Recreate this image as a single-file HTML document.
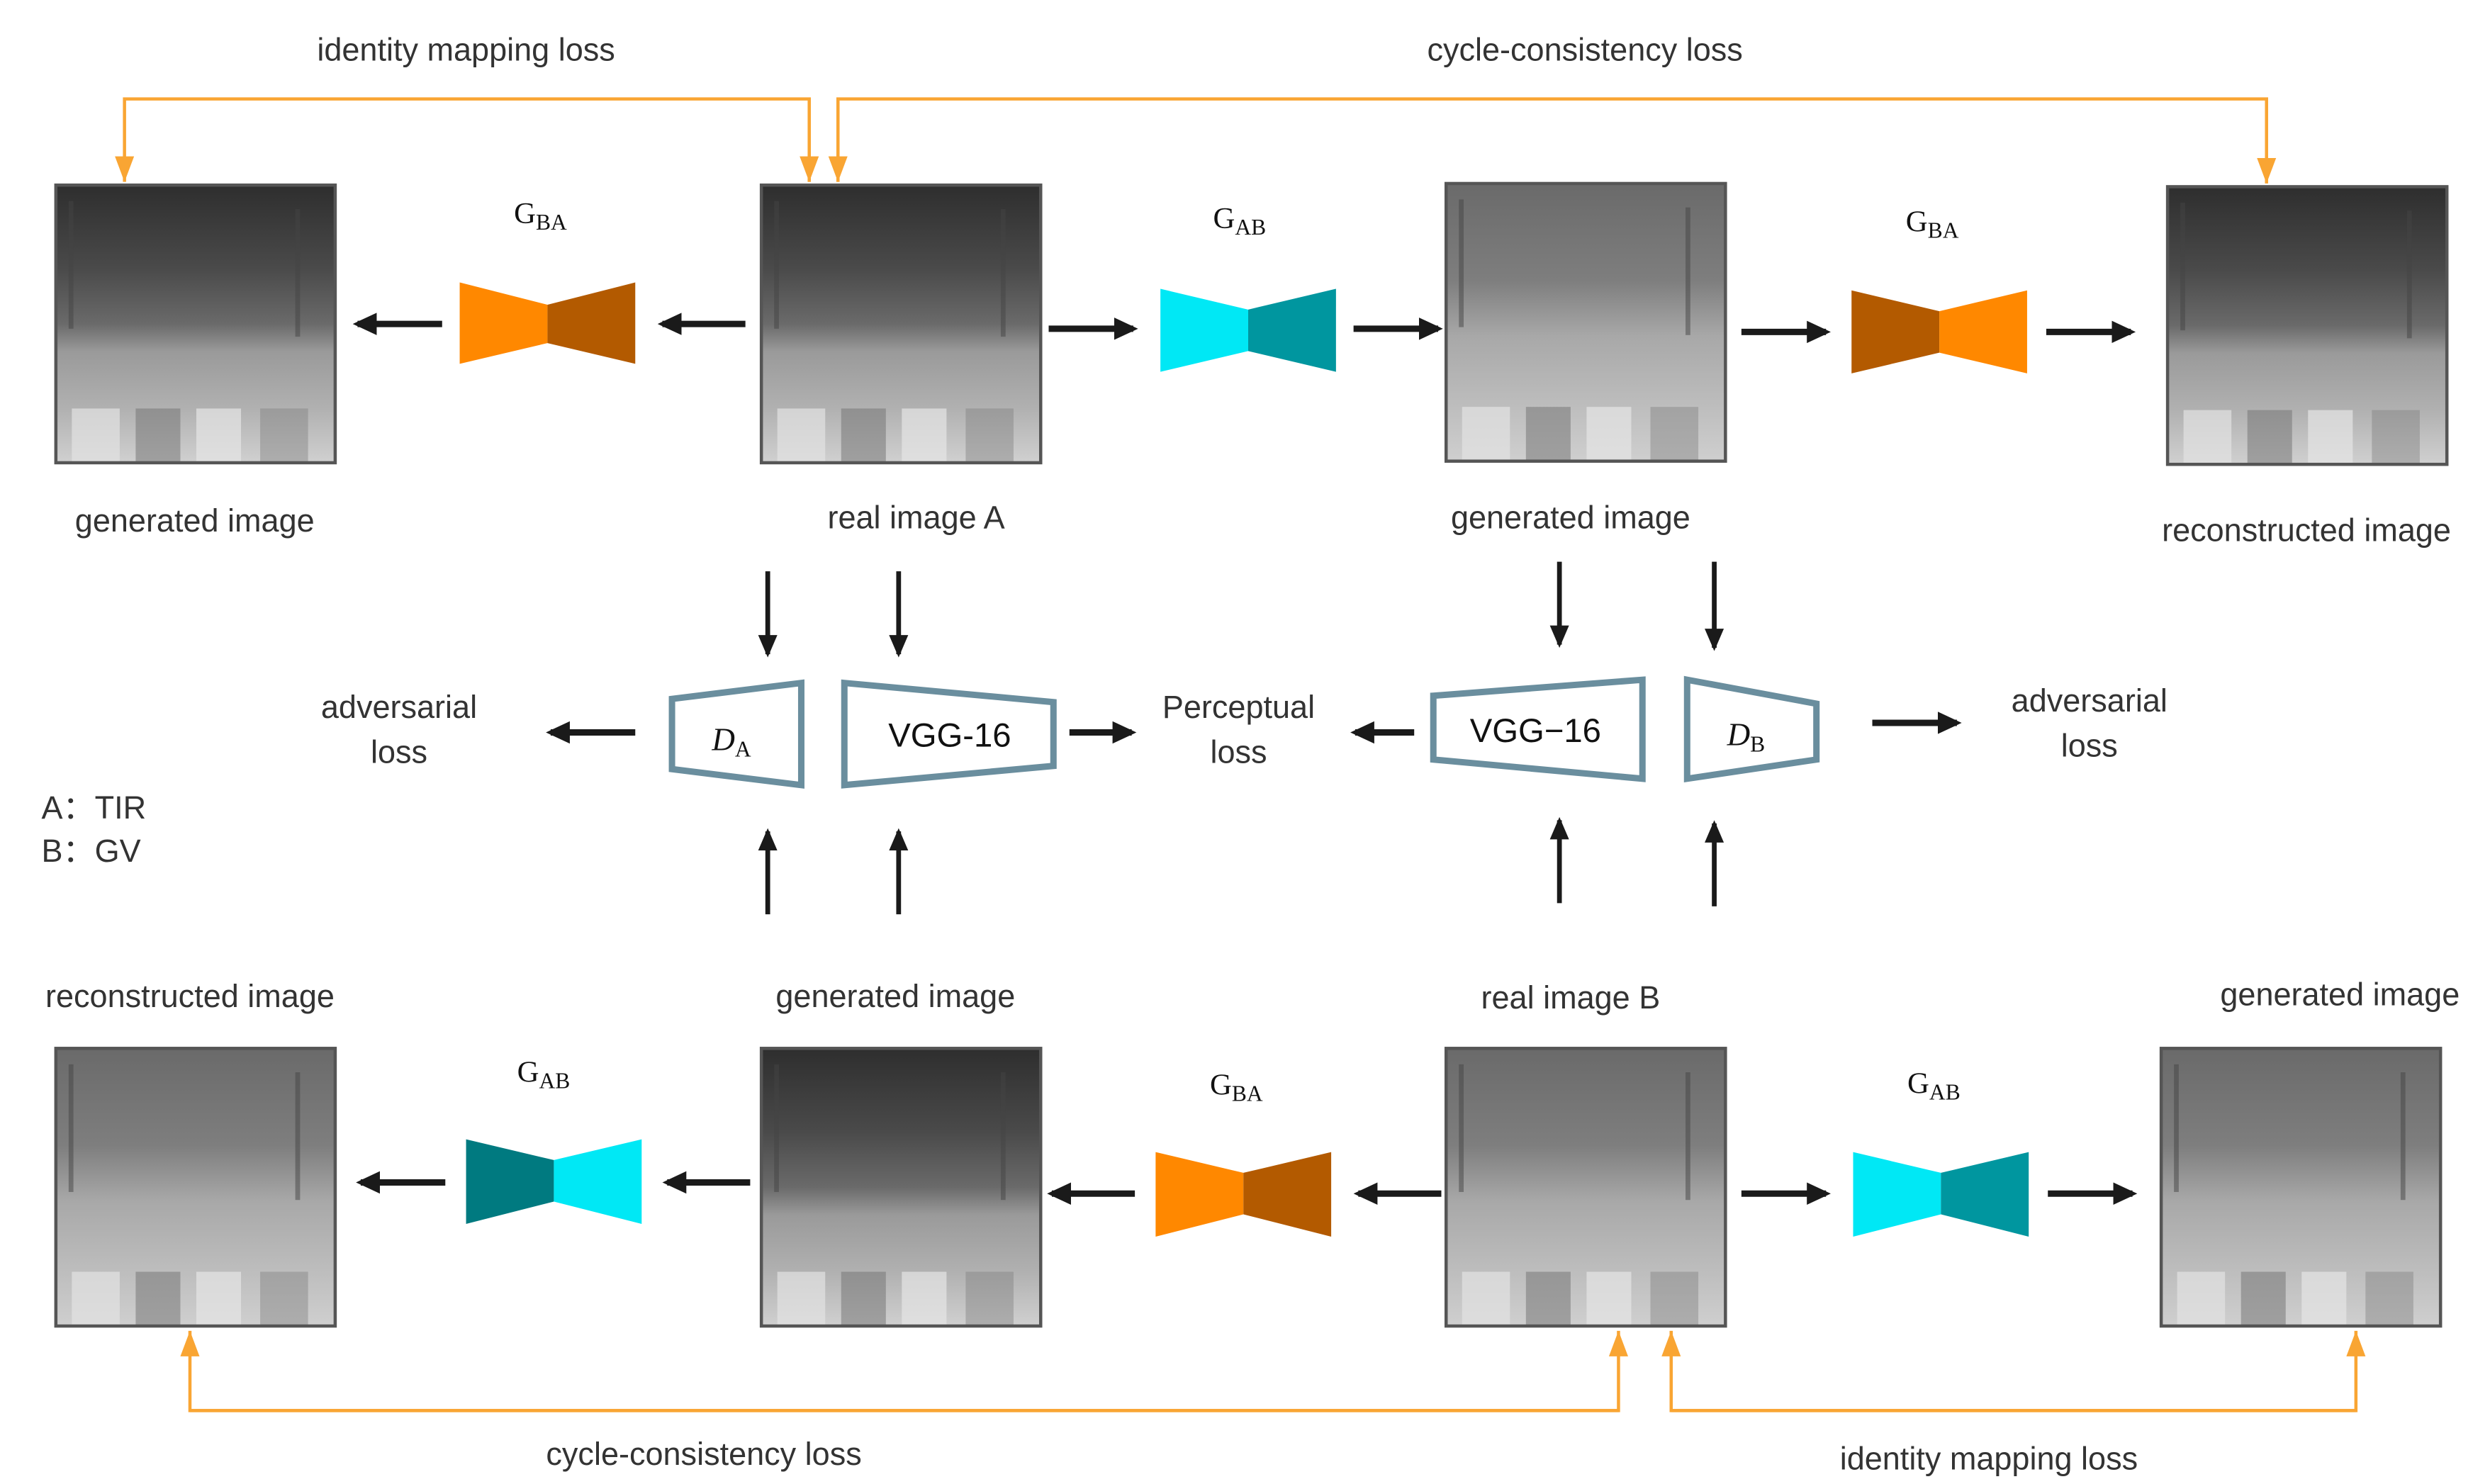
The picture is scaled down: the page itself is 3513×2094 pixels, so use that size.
<!DOCTYPE html>
<html><head><meta charset="utf-8"><style>
html,body{margin:0;padding:0;background:#fff;}
svg{display:block;}
text{font-family:"Liberation Sans",sans-serif;fill:#333;}
.s{font-family:"Liberation Serif",serif;fill:#111;}
</style></head><body>
<svg width="3513" height="2094" viewBox="0 0 1560 930" preserveAspectRatio="none" xmlns="http://www.w3.org/2000/svg">
<defs>
<linearGradient id="tir" x1="0" y1="0" x2="0" y2="1">
<stop offset="0" stop-color="#2e2e2e"/><stop offset="0.3" stop-color="#4a4a4a"/><stop offset="0.5" stop-color="#6a6a6a"/><stop offset="0.6" stop-color="#9a9a9a"/><stop offset="0.8" stop-color="#b0b0b0"/><stop offset="1" stop-color="#d0d0d0"/>
</linearGradient>
<linearGradient id="gv" x1="0" y1="0" x2="0" y2="1">
<stop offset="0" stop-color="#6a6a6a"/><stop offset="0.35" stop-color="#7e7e7e"/><stop offset="0.55" stop-color="#a8a8a8"/><stop offset="0.8" stop-color="#bdbdbd"/><stop offset="1" stop-color="#cfcfcf"/>
</linearGradient>
<g id="stripes"><rect x="10" y="140" width="30" height="34" fill="#e2e2e2" opacity="0.7"/><rect x="50" y="140" width="28" height="34" fill="#6f6f6f" opacity="0.5"/><rect x="88" y="140" width="28" height="34" fill="#e6e6e6" opacity="0.7"/><rect x="128" y="140" width="30" height="34" fill="#7a7a7a" opacity="0.4"/>
<rect x="8" y="10" width="3" height="80" fill="#444" opacity="0.5"/><rect x="150" y="15" width="3" height="80" fill="#444" opacity="0.5"/></g>
<g id="imT"><rect width="175" height="174" fill="url(#tir)"/><use href="#stripes"/><rect width="175" height="174" fill="none" stroke="#555" stroke-width="2"/></g>
<g id="imG"><rect width="175" height="174" fill="url(#gv)"/><use href="#stripes"/><rect width="175" height="174" fill="none" stroke="#555" stroke-width="2"/></g>
<marker id="ah" markerWidth="16" markerHeight="16" refX="12" refY="8" orient="auto" markerUnits="userSpaceOnUse"><path d="M0,1 L15,8 L0,15 Z" fill="#1a1a1a"/></marker>
<marker id="av" markerWidth="14" markerHeight="14" refX="12" refY="7" orient="auto" markerUnits="userSpaceOnUse"><path d="M0,1 L14,7 L0,13 Z" fill="#1a1a1a"/></marker>
<marker id="oa" markerWidth="16" markerHeight="16" refX="16" refY="8" orient="auto" markerUnits="userSpaceOnUse"><path d="M0,2 L16,8 L0,14 Z" fill="#F9A533"/></marker>
</defs>

<use href="#imT" x="35" y="116"/>
<use href="#imT" x="477" y="116"/>
<use href="#imG" x="906" y="115"/>
<use href="#imT" x="1358" y="117"/>
<use href="#imG" x="35" y="657"/>
<use href="#imT" x="477" y="657"/>
<use href="#imG" x="906" y="657"/>
<use href="#imG" x="1354" y="657"/>

<g fill="none" stroke="#F9A533" stroke-width="2">
<path d="M507,114 V62 H78 V114" marker-end="url(#oa)"/>
<path d="M507,62 V114" marker-end="url(#oa)"/>
<path d="M525,114 V62 H1420 V115" marker-end="url(#oa)"/>
<path d="M525,62 V114" marker-end="url(#oa)"/>
<path d="M1014,884 H119 V834" marker-end="url(#oa)"/>
<path d="M119,884 H1014 V834" marker-end="url(#oa)"/>
<path d="M1476,884 H1047 V834" marker-end="url(#oa)"/>
<path d="M1047,884 H1476 V834" marker-end="url(#oa)"/>
</g>

<polygon points="288,177 343,191 343,215 288,228" fill="#FF8800"/>
<polygon points="343,191 398,177 398,228 343,215" fill="#B35A00"/>
<polygon points="727,181 782,194 782,220 727,233" fill="#00E8F5"/>
<polygon points="782,194 837,181 837,233 782,220" fill="#00969F"/>
<polygon points="1160,182 1215,195 1215,221 1160,234" fill="#B35A00"/>
<polygon points="1215,195 1270,182 1270,234 1215,221" fill="#FF8800"/>
<polygon points="292,714 347,727 347,753 292,767" fill="#007A80"/>
<polygon points="347,727 402,714 402,767 347,753" fill="#00E8F5"/>
<polygon points="724,722 779,735 779,761 724,775" fill="#FF8800"/>
<polygon points="779,735 834,722 834,775 779,761" fill="#B35A00"/>
<polygon points="1161,722 1216,735 1216,761 1161,775" fill="#00E8F5"/>
<polygon points="1216,735 1271,722 1271,775 1216,761" fill="#00969F"/>

<g font-size="19">
<text x="322" y="140" class="s">G<tspan font-size="14" dy="4">BA</tspan></text>
<text x="760" y="143" class="s">G<tspan font-size="14" dy="4">AB</tspan></text>
<text x="1194" y="145" class="s">G<tspan font-size="14" dy="4">BA</tspan></text>
<text x="324" y="678" class="s">G<tspan font-size="14" dy="4">AB</tspan></text>
<text x="758" y="686" class="s">G<tspan font-size="14" dy="4">BA</tspan></text>
<text x="1195" y="685" class="s">G<tspan font-size="14" dy="4">AB</tspan></text>
</g>

<g stroke="#1a1a1a" stroke-width="4" fill="none" marker-end="url(#ah)">
<path d="M277,203 H224"/><path d="M467,203 H415"/><path d="M657,206 H710"/><path d="M848,206 H901"/><path d="M1091,208 H1144"/><path d="M1282,208 H1335"/>
<path d="M279,741 H226"/><path d="M470,741 H418"/><path d="M711,748 H659"/><path d="M903,748 H851"/><path d="M1091,748 H1144"/><path d="M1283,748 H1336"/>
<path d="M398,459 H345"/><path d="M670,459 H709"/><path d="M886,459 H849"/><path d="M1173,453 H1226"/>
</g>
<g stroke="#1a1a1a" stroke-width="3" fill="none" marker-end="url(#av)">
<path d="M481,358 V410"/><path d="M563,358 V410"/><path d="M977,352 V404"/><path d="M1074,352 V406"/>
<path d="M481,573 V521"/><path d="M563,573 V521"/><path d="M977,566 V514"/><path d="M1074,568 V516"/>
</g>

<g fill="none" stroke="#6A8E9E" stroke-width="4" stroke-linejoin="miter">
<polygon points="421,438 502,428 502,492 421,482"/>
<polygon points="529,428 660,440 660,480 529,492"/>
<polygon points="898,436 1029,426 1029,488 898,476"/>
<polygon points="1057,426 1138,441 1138,476 1057,488"/>
</g>
<text x="446" y="470" class="s" font-size="20" font-style="italic">D<tspan font-size="14" dy="4" font-style="normal">A</tspan></text>
<text x="1082" y="467" class="s" font-size="20" font-style="italic">D<tspan font-size="14" dy="4" font-style="normal">B</tspan></text>
<text x="595" y="468" font-size="21" text-anchor="middle" style="fill:#111">VGG-16</text>
<text x="962" y="465" font-size="21" text-anchor="middle" style="fill:#111">VGG−16</text>

<g font-size="20" text-anchor="middle">
<text x="292" y="38">identity mapping loss</text>
<text x="993" y="38">cycle-consistency loss</text>
<text x="122" y="333">generated image</text>
<text x="574" y="331">real image A</text>
<text x="984" y="331">generated image</text>
<text x="1445" y="339">reconstructed image</text>
<text x="250" y="450">adversarial</text><text x="250" y="478">loss</text>
<text x="776" y="450">Perceptual</text><text x="776" y="478">loss</text>
<text x="1309" y="446">adversarial</text><text x="1309" y="474">loss</text>
<text x="119" y="631">reconstructed image</text>
<text x="561" y="631">generated image</text>
<text x="984" y="632">real image B</text>
<text x="1466" y="630">generated image</text>
<text x="441" y="918">cycle-consistency loss</text>
<text x="1246" y="921">identity mapping loss</text>
</g>
<text x="26" y="513" font-size="20">A：TIR</text>
<text x="26" y="540" font-size="20">B：GV</text>
</svg>
</body></html>
